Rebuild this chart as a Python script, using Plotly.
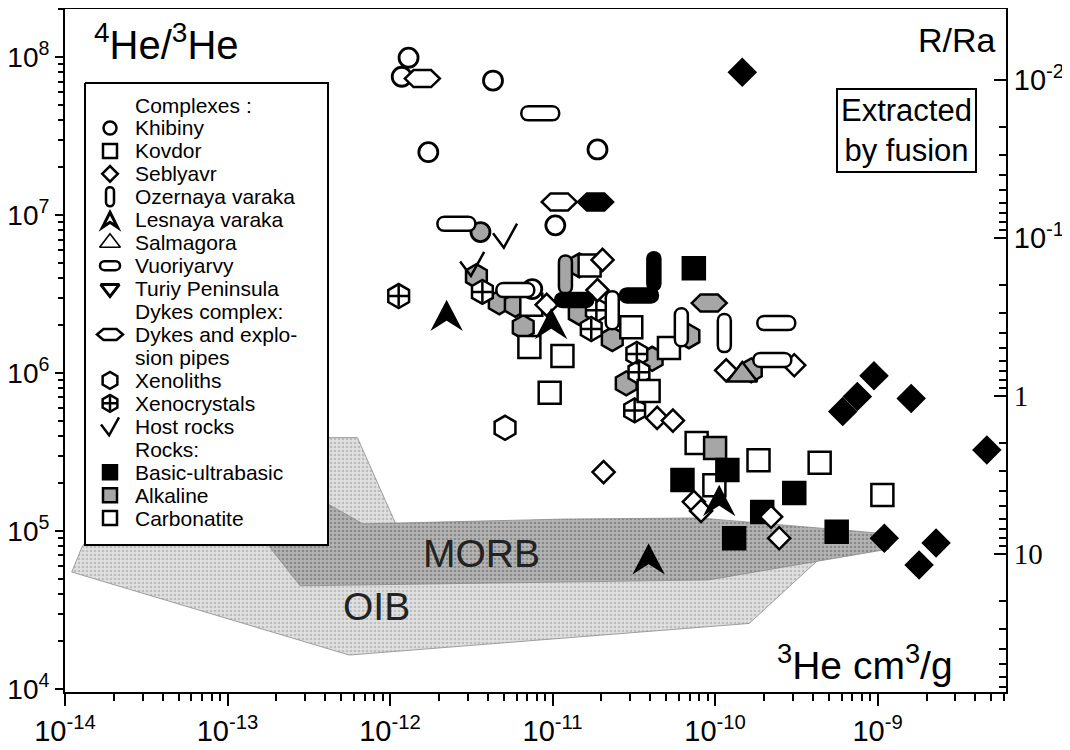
import math
import plotly.graph_objects as go

RA = 1.39e-6  # atmospheric 3He/4He

# axis ranges (log10 units)
X_RANGE = [-14.0, -8.21]
Y_RANGE = [3.981, 8.304]

x_tick_vals = [1e-14, 1e-13, 1e-12, 1e-11, 1e-10, 1e-9]
x_tick_text = ["10<sup>-14</sup>", "10<sup>-13</sup>", "10<sup>-12</sup>",
               "10<sup>-11</sup>", "10<sup>-10</sup>", "10<sup>-9</sup>"]
y_tick_vals = [1e4, 1e5, 1e6, 1e7, 1e8]
y_tick_text = ["10<sup>4</sup>", "10<sup>5</sup>", "10<sup>6</sup>",
               "10<sup>7</sup>", "10<sup>8</sup>"]
rra_tick_vals = [0.01, 0.1, 1, 10]
rra_tick_text = ["10<sup>-2</sup>", "10<sup>-1</sup>",
                 "<span style='font-family:Liberation Serif'>1</span>",
                 "<span style='font-family:Liberation Serif'>10</span>"]

# MORB and OIB fields
morb_he3 = [1.58e-13, 6.8e-13, 1.18e-11, 8.0e-11, 1.02e-9, 1.18e-9, 9.1e-11, 2.8e-13, 1.82e-13]
morb_ratio = [2.6e5, 1.11e5, 1.19e5, 1.21e5, 9.7e4, 7.7e4, 4.9e4, 4.5e4, 7.9e4]
oib_he3 = [1.1e-14, 1.27e-14, 3.3e-14, 4.1e-13, 6.3e-13, 1.08e-12, 4.2e-10, 4.2e-10, 1.62e-10, 5.6e-13]
oib_ratio = [5.5e4, 7.9e4, 3.5e5, 3.9e5, 3.9e5, 1.12e5, 7.8e4, 6.4e4, 2.6e4, 1.64e4]

# samples: 3He (cm3/g) and 4He/3He
khibiny_carb_he3 = [1.30e-12, 1.18e-12, 4.3e-12, 1.72e-12, 1.89e-11, 1.04e-11, 7.5e-12]
khibiny_carb_ratio = [9.9e7, 7.5e7, 7.1e7, 2.5e7, 2.6e7, 8.6e6, 3.4e6]
khibiny_alk_he3 = [3.6e-12]
khibiny_alk_ratio = [7.8e6]

kovdor_carb_he3 = [1.69e-11, 7.4e-12, 7.2e-12, 1.15e-11, 9.6e-12, 3.05e-11, 5.2e-11,
                   3.9e-11, 7.7e-11, 1.85e-10, 4.4e-10, 9.9e-11, 1.07e-9]
kovdor_carb_ratio = [4.8e6, 2.7e6, 1.46e6, 1.28e6, 7.5e5, 1.95e6, 1.44e6,
                     7.7e5, 3.6e5, 2.8e5, 2.7e5, 1.95e5, 1.69e5]
kovdor_alk_he3 = [1.0e-10]
kovdor_alk_ratio = [3.35e5]
kovdor_basic_he3 = [7.4e-11, 1.19e-10, 6.3e-11, 3.07e-10, 1.95e-10, 1.31e-10, 5.6e-10]
kovdor_basic_ratio = [4.6e6, 2.43e5, 2.1e5, 1.74e5, 1.32e5, 9.0e4, 9.9e4]

seblyavr_carb_he3 = [2.03e-11, 1.89e-11, 9.2e-12, 1.17e-10, 3.07e-10, 4.4e-11,
                     5.5e-11, 2.06e-11, 7.4e-11, 8.2e-11, 2.21e-10, 2.48e-10]
seblyavr_carb_ratio = [5.2e6, 3.35e6, 2.7e6, 1.04e6, 1.12e6, 5.2e5,
                       5.0e5, 2.36e5, 1.53e5, 1.34e5, 1.23e5, 9.0e4]
seblyavr_basic_he3 = [1.47e-10, 6.1e-10, 7.5e-10, 9.5e-10, 1.61e-9, 4.7e-9, 1.10e-9, 2.29e-9, 1.80e-9]
seblyavr_basic_ratio = [8.0e7, 5.7e5, 7.1e5, 9.6e5, 6.9e5, 3.26e5, 9.0e4, 8.4e4, 6.1e4]

ozernaya_carb_he3 = [2.33e-11, 6.2e-11, 1.14e-10]
ozernaya_carb_ratio = [2.5e6, 1.95e6, 1.79e6]
ozernaya_alk_he3 = [1.20e-11]
ozernaya_alk_ratio = [4.2e6]
ozernaya_basic_he3 = [4.2e-11]
ozernaya_basic_ratio = [4.4e6]

lesnaya_basic_he3 = [2.23e-12, 9.8e-12, 1.06e-10, 3.9e-11]
lesnaya_basic_ratio = [2.33e6, 2.07e6, 1.57e5, 6.7e4]

salmagora_alk_he3 = [1.47e-10]
salmagora_alk_ratio = [9.7e5]

vuoriyarvy_carb_he3 = [8.4e-12, 2.56e-12, 5.9e-12, 2.38e-10, 2.25e-10]
vuoriyarvy_carb_ratio = [4.4e7, 8.8e6, 3.35e6, 2.07e6, 1.21e6]
vuoriyarvy_basic_he3 = [1.36e-11, 3.4e-11]
vuoriyarvy_basic_ratio = [2.9e6, 3.1e6]

dykes_carb_he3 = [1.58e-12, 1.10e-11]
dykes_carb_ratio = [7.3e7, 1.21e7]
dykes_basic_he3 = [1.84e-11]
dykes_basic_ratio = [1.21e7]
dykes_alk_he3 = [9.2e-11]
dykes_alk_ratio = [2.77e6]

xenoliths_carb_he3 = [5.1e-12]
xenoliths_carb_ratio = [4.5e5]
xenoliths_alk_he3 = [3.4e-12, 4.7e-12, 5.9e-12, 6.6e-12, 1.46e-11, 1.46e-11,
                     2.33e-11, 4.1e-11, 6.9e-11, 2.84e-11, 1.67e-10]
xenoliths_alk_ratio = [4.1e6, 2.8e6, 2.7e6, 1.95e6, 4.8e6, 2.4e6,
                       1.64e6, 1.23e6, 1.71e6, 8.6e5, 1.04e6]

xenocrystals_he3 = [1.13e-12, 3.7e-12, 1.86e-11, 1.73e-11, 3.3e-11, 3.4e-11, 3.2e-11]
xenocrystals_ratio = [3.07e6, 3.26e6, 2.5e6, 1.9e6, 1.32e6, 1.01e6, 5.8e5]

host_rocks_he3 = [5.1e-12, 3.2e-12]
host_rocks_ratio = [7.4e6, 4.9e6]

# legend rows: (label, glyph); glyph None -> header line
legend_rows = [
    ("Complexes :", None), ("Khibiny", "circle"), ("Kovdor", "square"),
    ("Seblyavr", "diamond"), ("Ozernaya varaka", "vpill"),
    ("Lesnaya varaka", "arrow"), ("Salmagora", "triangle"),
    ("Vuoriyarvy", "hpill"), ("Turiy Peninsula", "tridown"),
    ("Dykes complex:", None), ("Dykes and explo-", "lens"), ("sion pipes", ""),
    ("Xenoliths", "hexagon"), ("Xenocrystals", "xeno"), ("Host rocks", "vee"),
    ("Rocks:", None), ("Basic-ultrabasic", "basic"), ("Alkaline", "alk"),
    ("Carbonatite", "carb"),
]

FILL = {"carb": "white", "alk": "#a6a6a6", "basic": "black"}
LW = 2.5
NONE = "rgba(0,0,0,0)"

# the page puts the figure 8 px in from the top-left corner of the window;
# plot-area edges below are in window pixels
PAGE_OFFSET = 8
WIN_W, WIN_H = 1070, 750
PLOT_L, PLOT_R, PLOT_T, PLOT_B = 65, 1006, 9, 692
FIG_W, FIG_H = WIN_W - PAGE_OFFSET, WIN_H - PAGE_OFFSET


def pill_path(w, h):
    k = 4.0 / 3.0
    if h >= w:
        r = w / 2.0
        s = h / 2.0 - r
        return (f"M{-r},{-s} L{-r},{s} C{-r},{s + k * r} {r},{s + k * r} {r},{s} "
                f"L{r},{-s} C{r},{-s - k * r} {-r},{-s - k * r} {-r},{-s} Z")
    r = h / 2.0
    s = w / 2.0 - r
    return (f"M{-s},{-r} L{s},{-r} C{s + k * r},{-r} {s + k * r},{r} {s},{r} "
            f"L{-s},{r} C{-s - k * r},{r} {-s - k * r},{-r} {-s},{-r} Z")


def lens_path(w, h):
    a, b = w / 2.0, h / 2.0
    return f"M{-a},0 L{-a / 2},{b} L{a / 2},{b} L{a},0 L{a / 2},{-b} L{-a / 2},{-b} Z"


def arrow_path(w, h):
    a, b = w / 2.0, h / 2.0
    return f"M0,{b} L{a},{-b} L0,{-b / 3} L{-a},{-b} Z"


def vee_path(w, h):
    a, b = w / 2.0, h / 2.0
    return f"M{-a},{0.2 * b} L{-0.1 * a},{-b} L{a},{b}"


fig = go.Figure()
shapes = []


def field(he3, ratio, fg, bg):
    fig.add_trace(go.Scatter(
        x=he3 + he3[:1], y=ratio + ratio[:1], mode="lines", fill="toself",
        fillcolor=bg, fillpattern=dict(shape=".", fgcolor=fg, bgcolor=bg, size=4, solidity=0.35),
        line=dict(color="#8a8a8a", width=0.8), hoverinfo="skip"))


def markers(he3, ratio, symbol, size, fill, lw=LW, xa="x", ya="y"):
    fig.add_trace(go.Scatter(
        x=he3, y=ratio, mode="markers", xaxis=xa, yaxis=ya, hoverinfo="skip",
        marker=dict(symbol=symbol, size=size, color=fill, line=dict(color="black", width=lw))))


def path_marks(he3, ratio, path, fill, lw=LW, xref="x", yref="y"):
    # shape anchors are given in data units (log axes convert them internally)
    for xv, yv in zip(he3, ratio):
        shapes.append(dict(
            type="path", xref=xref, yref=yref, xsizemode="pixel", ysizemode="pixel",
            xanchor=xv, yanchor=yv, path=path, fillcolor=fill,
            line=dict(color="black", width=lw), layer="above"))


field(oib_he3, oib_ratio, "#9a9a9a", "#e0e0e0")
field(morb_he3, morb_ratio, "#5e5e5e", "#b4b4b4")

# hidden trace carrying the R/Ra axis
fig.add_trace(go.Scatter(x=[1e-14] * 4, y=rra_tick_vals, yaxis="y2", mode="markers",
                         marker=dict(opacity=0), hoverinfo="skip"))

markers(xenoliths_alk_he3, xenoliths_alk_ratio, "hexagon", 24, FILL["alk"])
markers(xenoliths_carb_he3, xenoliths_carb_ratio, "hexagon", 24, FILL["carb"])
markers(xenocrystals_he3, xenocrystals_ratio, "hexagon", 24, FILL["carb"])
markers(xenocrystals_he3, xenocrystals_ratio, "cross-thin-open", 15, "black")
markers(kovdor_carb_he3, kovdor_carb_ratio, "square", 22, FILL["carb"])
markers(kovdor_alk_he3, kovdor_alk_ratio, "square", 22, FILL["alk"])
markers(kovdor_basic_he3, kovdor_basic_ratio, "square", 22, FILL["basic"])
markers(seblyavr_carb_he3, seblyavr_carb_ratio, "diamond", 17, FILL["carb"])
markers(seblyavr_basic_he3, seblyavr_basic_ratio, "diamond", 20, FILL["basic"])
markers(khibiny_carb_he3, khibiny_carb_ratio, "circle", 19, FILL["carb"], 2.8)
markers(khibiny_alk_he3, khibiny_alk_ratio, "circle", 19, FILL["alk"], 2.8)
markers(salmagora_alk_he3, salmagora_alk_ratio, "triangle-up", 26, FILL["alk"])

path_marks(ozernaya_carb_he3, ozernaya_carb_ratio, pill_path(13, 38), FILL["carb"])
path_marks(ozernaya_alk_he3, ozernaya_alk_ratio, pill_path(13, 38), FILL["alk"])
path_marks(ozernaya_basic_he3, ozernaya_basic_ratio, pill_path(13, 38), FILL["basic"])
path_marks(vuoriyarvy_carb_he3, vuoriyarvy_carb_ratio, pill_path(38, 14), FILL["carb"])
path_marks(vuoriyarvy_basic_he3, vuoriyarvy_basic_ratio, pill_path(38, 14), FILL["basic"])
path_marks(dykes_carb_he3, dykes_carb_ratio, lens_path(35, 17), FILL["carb"])
path_marks(dykes_basic_he3, dykes_basic_ratio, lens_path(35, 17), FILL["basic"])
path_marks(dykes_alk_he3, dykes_alk_ratio, lens_path(35, 17), FILL["alk"])
path_marks(lesnaya_basic_he3, lesnaya_basic_ratio, arrow_path(26, 25), FILL["basic"])
path_marks(host_rocks_he3, host_rocks_ratio, vee_path(24, 24), NONE)

# ---- hand-drawn key, positioned in window pixels on an overlay axis ----
LEG_X0, LEG_X1, LEG_Y0, LEG_Y1 = 85, 328, 83, 545
GLYPH_X, TEXT_X, ROW0, ROW_H = 110, 133, 105, 22.95

fig.add_trace(go.Scatter(
    x=[LEG_X0, LEG_X1, LEG_X1, LEG_X0, LEG_X0], y=[LEG_Y0, LEG_Y0, LEG_Y1, LEG_Y1, LEG_Y0],
    xaxis="x2", yaxis="y3", mode="lines", fill="toself", fillcolor="white",
    line=dict(color="black", width=2), hoverinfo="skip"))

annotations = []
glyph_sym = {"circle": ("circle", 13, 2.5), "square": ("square", 14, 2.5),
             "diamond": ("diamond", 12, 2.5), "triangle": ("triangle-up", 18, 1.6),
             "tridown": ("triangle-down", 16, 3), "hexagon": ("hexagon", 17, 2.5),
             "xeno": ("hexagon", 17, 2.5)}
for i, (label, glyph) in enumerate(legend_rows):
    yy = ROW0 + i * ROW_H
    annotations.append(dict(x=TEXT_X, y=yy, xref="x2", yref="y3", text=label, showarrow=False,
                            xanchor="left", yanchor="middle", font=dict(size=21)))
    if not glyph:
        continue
    if glyph in glyph_sym:
        sym, sz, lw = glyph_sym[glyph]
        markers([GLYPH_X], [yy], sym, sz, "white", lw, "x2", "y3")
        if glyph == "xeno":
            markers([GLYPH_X], [yy], "cross-thin-open", 10, "black", 2.5, "x2", "y3")
    elif glyph in FILL:
        markers([GLYPH_X], [yy], "square", 14, FILL[glyph], 2.5, "x2", "y3")
    else:
        path = {"vpill": pill_path(8, 19), "hpill": pill_path(20, 9), "lens": lens_path(26, 11),
                "arrow": arrow_path(15, 15), "vee": vee_path(18, 18)}[glyph]
        fill = NONE if glyph == "vee" else "white"
        path_marks([GLYPH_X], [yy], path, fill, 3 if glyph == "arrow" else 2.5,
                   xref="x2", yref="y3")

annotations += [
    dict(x=92, y=42, text="<sup>4</sup>He/<sup>3</sup>He", xanchor="left", font=dict(size=40)),
    dict(x=998, y=40, text="R/Ra", xanchor="right", font=dict(size=34)),
    dict(x=977, y=130, text="Extracted<br>by fusion", xanchor="right", font=dict(size=31),
         bordercolor="black", borderwidth=2, borderpad=3, bgcolor="white"),
    dict(x=481, y=553, text="MORB", font=dict(size=39, color="#222222")),
    dict(x=376, y=606, text="OIB", font=dict(size=39, color="#222222")),
    dict(x=955, y=662, text="<sup>3</sup>He cm<sup>3</sup>/g", xanchor="right", font=dict(size=39)),
]
for a in annotations[len(legend_rows):]:
    a.update(xref="x2", yref="y3", showarrow=False, yanchor="middle")


def minor_vals(decades):
    return [m * d for d in decades for m in range(2, 10)]


axis_common = dict(showgrid=False, zeroline=False, linecolor="black", linewidth=2,
                   tickcolor="black", tickwidth=2, tickfont=dict(size=29), automargin=False)
rra_top = math.log10(1 / RA) - Y_RANGE[1]
rra_bottom = math.log10(1 / RA) - Y_RANGE[0]

fig.update_layout(
    width=FIG_W, height=FIG_H,
    margin=dict(l=PLOT_L - PAGE_OFFSET, r=WIN_W - PLOT_R, t=PLOT_T - PAGE_OFFSET,
                b=WIN_H - PLOT_B, autoexpand=False),
    paper_bgcolor="white", plot_bgcolor="white",
    showlegend=False,
    font=dict(family="Liberation Sans, Arial, sans-serif", color="black"),
    xaxis=dict(type="log", range=X_RANGE, tickmode="array", tickvals=x_tick_vals,
               ticktext=x_tick_text, ticks="outside", ticklen=12, mirror=True,
               minor=dict(tickmode="array", tickvals=minor_vals([1e-14, 1e-13, 1e-12, 1e-11, 1e-10, 1e-9]),
                          ticks="outside", ticklen=7, tickwidth=1.5, tickcolor="black"),
               **axis_common),
    yaxis=dict(type="log", range=Y_RANGE, tickmode="array", tickvals=y_tick_vals,
               ticktext=y_tick_text, ticks="outside", ticklen=8, mirror=True,
               minor=dict(tickmode="array", tickvals=minor_vals([1e4, 1e5, 1e6, 1e7, 1e8]),
                          ticks="outside", ticklen=5, tickwidth=1.5, tickcolor="black"),
               **{**axis_common, "tickfont": dict(size=28)}),
    yaxis2=dict(type="log", overlaying="y", side="right", anchor="x",
                range=[rra_bottom, rra_top], tickmode="array", tickvals=rra_tick_vals,
                ticktext=rra_tick_text, ticks="inside", ticklen=12, showline=True,
                minor=dict(tickmode="array", tickvals=minor_vals([0.01, 0.1, 1, 10]),
                           ticks="inside", ticklen=7, tickwidth=1.5, tickcolor="black"),
                **axis_common),
    xaxis2=dict(overlaying="x", range=[PLOT_L, PLOT_R], visible=False, anchor="y3"),
    yaxis3=dict(overlaying="y", range=[PLOT_B, PLOT_T], visible=False, anchor="x2"),
    shapes=shapes,
    annotations=annotations,
)

fig.write_html("out.html")
